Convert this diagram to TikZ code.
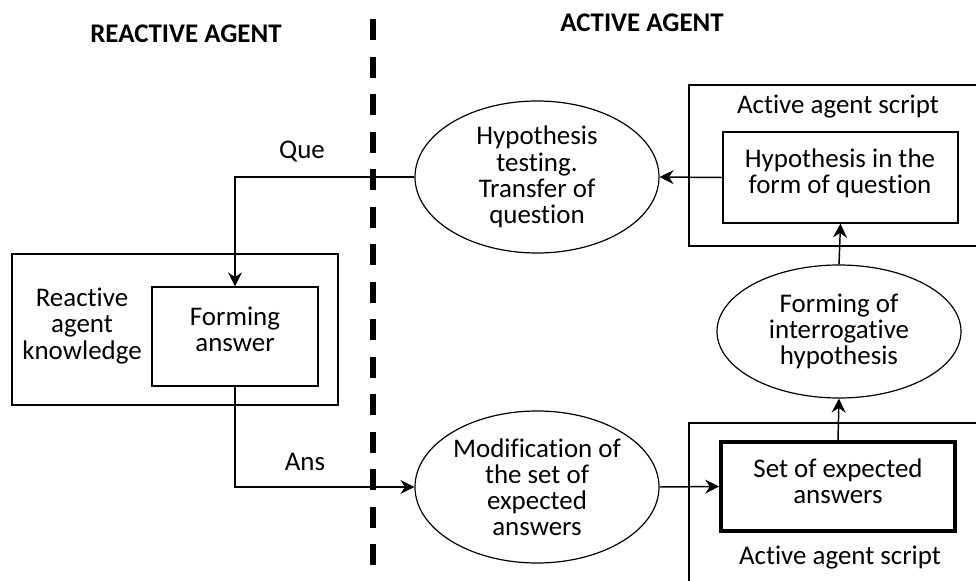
\documentclass[tikz,border=0pt]{standalone}
\usepackage{fontspec}
\setmainfont{Carlito}[Ligatures=NoCommon]
\usepackage{tikz}
\usetikzlibrary{shapes.geometric,arrows.meta}

\begin{document}
\begin{tikzpicture}[x=0.75pt,y=-0.75pt,
		every node/.style={font=\fontsize{20.2}{19.6}\selectfont},
		box/.style={draw, line width=0.9pt, inner sep=0pt},
		oval/.style={draw, ellipse, line width=0.9pt, inner sep=0pt, align=center,
			minimum width=183pt, minimum height=114pt},
		flow/.style={line width=1.1pt, -{Stealth[length=10.5pt,width=10.5pt,inset=3.5pt]}}]
		\useasboundingbox (0,0) rectangle (976,581);
	
		% Headings and the dashed border between the agents
		\node[font=\fontsize{20.2}{19.6}\selectfont\bfseries] (reactive) at (186,34) {REACTIVE AGENT};
		\node[font=\fontsize{20.2}{19.6}\selectfont\bfseries] (active) at (642,23) {ACTIVE AGENT};
		\draw[line width=4.1pt, dash pattern=on 15.75pt off 12.4pt] (373,19) -- (373,565);
	
		% Reactive agent side
		\node[box, minimum width=244.5pt, minimum height=113.25pt] (know) at (175,329.5) {};
		\node[align=center] (knowtext) at (82,326) {Reactive\\agent\\knowledge};
		\node[box, minimum width=124.5pt, minimum height=74.25pt] (form) at (235,336.5) {};
		\node[align=center] (formtext) at (235,329.5) {Forming\\answer};
	
		% Active agent side, top script
		\node[box, minimum width=222pt, minimum height=120.75pt] (topscript) at (837,165.5) {};
		\node (toplabel) at (838,107) {Active agent script};
		\node[box, minimum width=176.25pt, minimum height=68.25pt] (hyp) at (840.5,177.5) {};
		\node[align=center] (hyptext) at (840,173) {Hypothesis in the\\form of question};
	
		% Active agent side, bottom script
		\node[box, minimum width=222pt, minimum height=129pt] (botscript) at (837,509) {};
		\node (botlabel) at (840,558) {Active agent script};
		\node[box, line width=2.8pt, minimum width=175.5pt, minimum height=66.75pt] (expect) at (838,486.5) {};
		\node[align=center] (expecttext) at (838,481.5) {Set of expected\\answers};
	
		% Ellipses
		\node[oval] (test) at (537,177) {Hypothesis\\testing.\\Transfer of\\question};
		\node[oval] (modif) at (537,487) {Modification of\\the set of\\expected\\answers};
		\node[oval, minimum height=99.75pt] (inter) at (839,331.5) {Forming of\\interrogative\\hypothesis};
	
		% Arrows
		\draw[flow] (hyp.west) -- (test.east);
		\draw[flow] (test.west) -| (form.north);
		\node (que) at (302,152) {Que};
		\draw[flow] (form.south) |- (modif.west);
		\node (ans) at (305,462) {Ans};
		\draw[flow] (modif.east) -- (expect.west);
		\draw[flow] (expect.north) -- (inter.south);
		\draw[flow] (inter.north) -- (hyp.south);
	
	\end{tikzpicture}
\end{document}
